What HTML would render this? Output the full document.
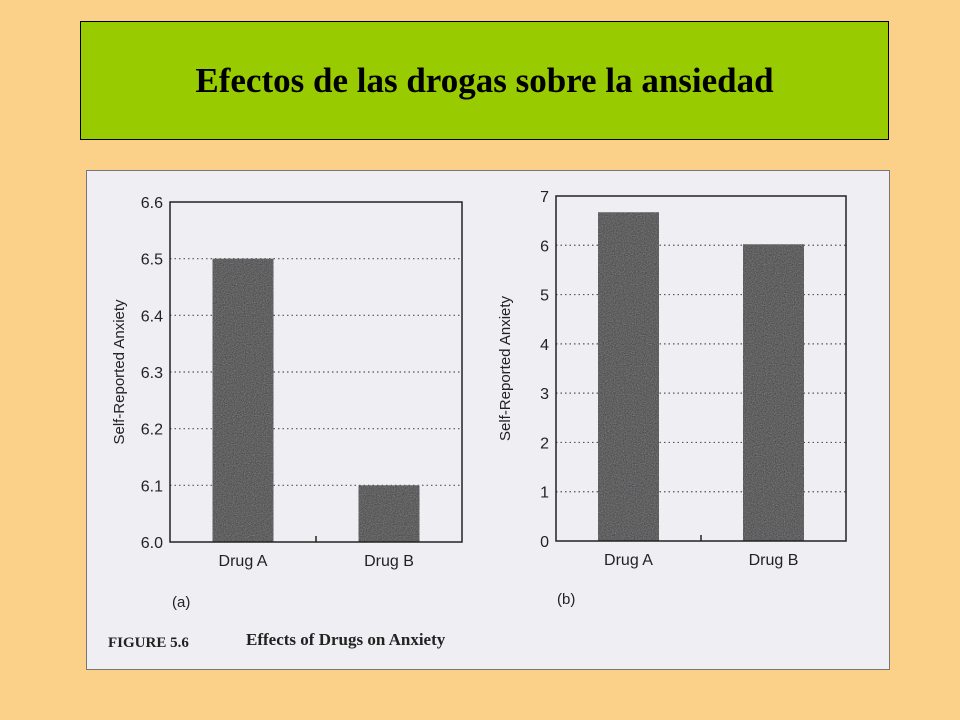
<!DOCTYPE html>
<html><head><meta charset="utf-8"><style>
body{margin:0;width:960px;height:720px;background:#fbd18a;position:relative;overflow:hidden;font-family:"Liberation Sans",sans-serif}
#hdr{position:absolute;left:80px;top:21px;width:807px;height:117px;background:#99cc00;border:1px solid #000;display:flex;align-items:center;justify-content:center;font-family:"Liberation Serif",serif;font-weight:bold;font-size:35px;color:#000}
#panel{position:absolute;left:86px;top:170px;width:802px;height:498px;background:#efeff3;border:1px solid #777}
</style></head><body>
<div id="hdr">Efectos de las drogas sobre la ansiedad</div>
<div id="panel"></div>
<svg id="svg" width="960" height="720" style="position:absolute;left:0;top:0">
<defs><filter id="grain"><feTurbulence type="fractalNoise" baseFrequency="0.9" numOctaves="2" result="n"/><feColorMatrix type="saturate" values="0"/><feComponentTransfer><feFuncA type="table" tableValues="0 0.35"/></feComponentTransfer><feComposite in2="SourceGraphic" operator="in"/><feMerge><feMergeNode in="SourceGraphic"/><feMergeNode/></feMerge></filter></defs>
</svg>
<script>
const categories=["Drug A","Drug B"];
const valuesA=[6.5,6.1];
const valuesB=[6.67,6.02];
const ticksA=["6.0","6.1","6.2","6.3","6.4","6.5","6.6"];
const ticksB=["0","1","2","3","4","5","6","7"];
const svg=document.getElementById('svg');
const NS='http://www.w3.org/2000/svg';
function mk(t,a){const e=document.createElementNS(NS,t);for(const k in a)e.setAttribute(k,a[k]);svg.appendChild(e);return e;}
function chart(cfg,vals,ticks,tag){
  const tmin=parseFloat(ticks[0]),tmax=parseFloat(ticks[ticks.length-1]);
  const y=v=>cfg.bot-(v-tmin)/(tmax-tmin)*(cfg.bot-cfg.top);
  const bw=(cfg.right-cfg.left);
  ticks.forEach((t,i)=>{const v=parseFloat(t);const yy=y(v);
    if(i>0&&i<ticks.length-1){const g=mk('line',{x1:cfg.left,x2:cfg.right,y1:yy,y2:yy,stroke:'#555','stroke-width':1.2,'stroke-dasharray':'1.5 3'});
    
    }
    const tx=mk('text',{x:cfg.left-7,y:yy+6,'text-anchor':'end','font-size':16,fill:'#222'});tx.textContent=t;
    
    
  });
  vals.forEach((v,i)=>{const cx=cfg.left+bw*(i*2+1)/4;const w=61;
    const r=mk('rect',{x:cx-w/2,y:y(v),width:w,height:cfg.bot-y(v),fill:'#3a3a3c',filter:'url(#grain)'});
    
    
    const l=mk('text',{x:cx,y:cfg.bot+24,'text-anchor':'middle','font-size':16,fill:'#222'});l.textContent=categories[i];
    
    
  });
  const b=mk('rect',{x:cfg.left,y:cfg.top,width:bw,height:cfg.bot-cfg.top,fill:'none',stroke:'#222','stroke-width':1.5});
  
  
  const mt=mk('line',{x1:cfg.left+bw/2,x2:cfg.left+bw/2,y1:cfg.bot,y2:cfg.bot-6,stroke:'#222','stroke-width':1.5});
  
  
  const yt=mk('text',{x:0,y:0,'text-anchor':'middle','font-size':15,fill:'#222',transform:`translate(${cfg.ylx},${(cfg.top+cfg.bot)/2}) rotate(-90)`});yt.textContent='Self-Reported Anxiety';
  
  
  const pl=mk('text',{x:cfg.plx,y:cfg.ply,'font-size':15,fill:'#222'});pl.textContent='('+tag+')';
  
  
}
chart({left:170,right:462,top:202,bot:542,ylx:124,plx:172,ply:607},valuesA,ticksA,'a');
chart({left:556,right:846,top:196,bot:541,ylx:510,plx:557,ply:604},valuesB,ticksB,'b');
const f1=mk('text',{x:108,y:647,'font-family':'Liberation Serif, serif','font-weight':'bold','font-size':15,fill:'#222'});f1.textContent='FIGURE 5.6';


const f2=mk('text',{x:246,y:645,'font-family':'Liberation Serif, serif','font-weight':'bold','font-size':17,fill:'#222'});f2.textContent='Effects of Drugs on Anxiety';


</script>
</body></html>
